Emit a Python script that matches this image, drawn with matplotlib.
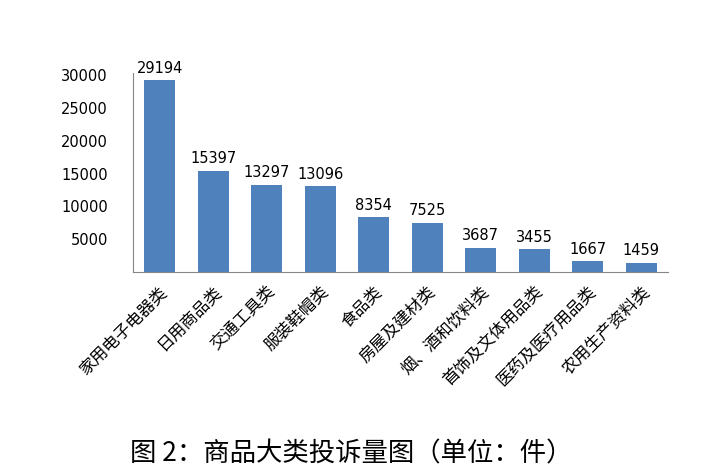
import matplotlib.pyplot as plt

plt.rcParams['font.family'] = ['Noto Sans CJK SC', 'DejaVu Sans']

categories = ['家用电子电器类', '日用商品类', '交通工具类', '服装鞋帽类', '食品类',
              '房屋及建材类', '烟、酒和饮料类', '首饰及文体用品类', '医药及医疗用品类', '农用生产资料类']
complaints = [29194, 15397, 13297, 13096, 8354, 7525, 3687, 3455, 1667, 1459]
yticks = [5000, 10000, 15000, 20000, 25000, 30000]

fig = plt.figure(figsize=(7.03, 4.75), dpi=100)
ax = fig.add_axes([0.189, 0.427, 0.761, 0.419])
x = range(len(categories))
ax.bar(x, complaints, width=0.58, color='#4F81BD')
for i, v in zip(x, complaints):
    ax.text(i, v + 700, str(v), ha='center', va='bottom', fontsize=10.5, family='DejaVu Sans')

ax.set_xlim(-0.5, len(categories) - 0.5)
ax.set_ylim(0, 30300)
ax.set_yticks(yticks)
ax.set_yticklabels([str(t) for t in yticks], fontsize=10.5, family='DejaVu Sans')
ax.set_xticks(list(x))
ax.set_xticklabels(categories, rotation=45, ha='right', rotation_mode='anchor', fontsize=12)
ax.tick_params(axis='y', length=0, pad=18)
ax.tick_params(axis='x', length=0, pad=8)
for s in ['top', 'right']:
    ax.spines[s].set_visible(False)
for s in ['left', 'bottom']:
    ax.spines[s].set_color('#868686')

fig.text(0.185, 0.045, '图 2：商品大类投诉量图（单位：件）', ha='left', va='center', fontsize=19)
fig.savefig('out.png', dpi=100)
